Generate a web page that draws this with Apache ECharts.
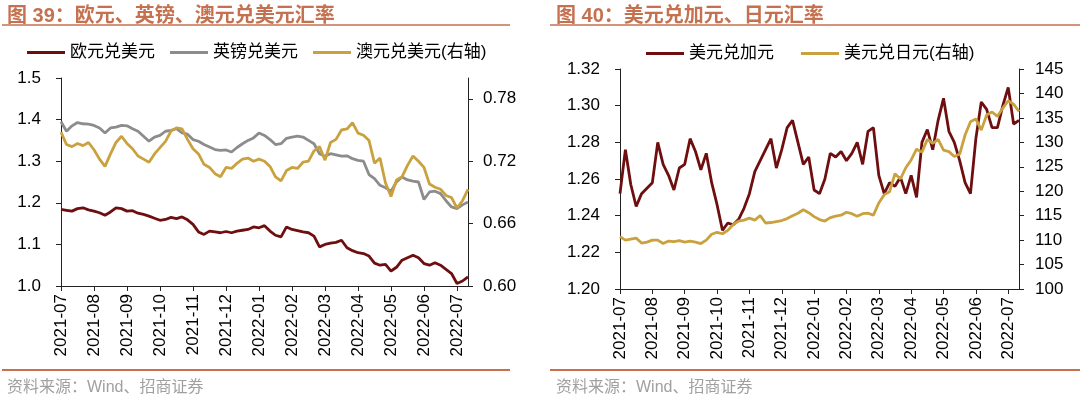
<!DOCTYPE html>
<html>
<head>
<meta charset="utf-8">
<script src="https://cdn.jsdelivr.net/npm/echarts@6/dist/echarts.min.js"></script>
<style>
  html, body { margin: 0; padding: 0; background: #fff; }
  #main { width: 1080px; height: 396px; }
</style>
</head>
<body>
<div id="main"></div>
<script>
// month ticks on the x axis, plus the sampling days inside each month
var months = ['2021-07','2021-08','2021-09','2021-10','2021-11','2021-12',
  '2022-01','2022-02','2022-03','2022-04','2022-05','2022-06','2022-07'];
var days = ['01','06','11','16','21','26'];

// 图39 (left axis: EUR, GBP; right axis: AUD)
var eurUsd = [1.184,1.182,1.180,1.186,1.188,1.183, 1.180,1.176,1.170,1.178,1.188,1.186,
  1.180,1.181,1.175,1.172,1.168,1.163, 1.158,1.160,1.165,1.162,1.166,1.159,
  1.148,1.130,1.124,1.132,1.130,1.128, 1.131,1.128,1.132,1.134,1.136,1.142,
  1.140,1.145,1.132,1.122,1.118,1.142, 1.136,1.133,1.130,1.128,1.120,1.094,
  1.100,1.103,1.105,1.110,1.092,1.085, 1.080,1.078,1.072,1.055,1.050,1.052,
  1.036,1.045,1.062,1.068,1.074,1.068, 1.054,1.050,1.056,1.050,1.040,1.030,
  1.006,1.012,1.022];
var gbpUsd = [1.395,1.372,1.385,1.393,1.390,1.389, 1.386,1.380,1.368,1.380,1.382,1.386,
  1.385,1.378,1.372,1.360,1.348,1.358, 1.362,1.372,1.374,1.378,1.368,1.365,
  1.352,1.348,1.340,1.334,1.328,1.326, 1.327,1.322,1.333,1.342,1.350,1.356,
  1.368,1.362,1.352,1.340,1.342,1.355, 1.358,1.360,1.358,1.350,1.342,1.318,
  1.312,1.318,1.315,1.312,1.313,1.306, 1.302,1.300,1.268,1.258,1.242,1.236,
  1.228,1.250,1.262,1.255,1.252,1.250, 1.208,1.226,1.228,1.222,1.205,1.190,
  1.186,1.195,1.202];
var audUsd = [0.748,0.736,0.734,0.737,0.735,0.738, 0.731,0.722,0.715,0.727,0.738,0.744,
  0.737,0.732,0.725,0.722,0.719,0.727, 0.733,0.739,0.749,0.752,0.751,0.741,
  0.732,0.727,0.717,0.714,0.708,0.705, 0.714,0.713,0.718,0.722,0.723,0.720,
  0.722,0.720,0.715,0.705,0.701,0.711, 0.714,0.713,0.719,0.720,0.730,0.734,
  0.721,0.738,0.741,0.750,0.751,0.757, 0.747,0.745,0.740,0.718,0.723,0.699,
  0.686,0.702,0.705,0.716,0.725,0.720, 0.714,0.698,0.695,0.693,0.687,0.685,
  0.675,0.682,0.693];

// 图40 (left axis: CAD; right axis: JPY)
var usdCad = [1.252,1.276,1.257,1.245,1.252,1.255, 1.258,1.280,1.268,1.262,1.254,1.266,
  1.268,1.282,1.275,1.265,1.274,1.258, 1.246,1.232,1.236,1.235,1.238,1.244,
  1.252,1.264,1.270,1.276,1.282,1.266, 1.276,1.288,1.292,1.280,1.268,1.272,
  1.254,1.252,1.260,1.274,1.272,1.275, 1.270,1.274,1.280,1.268,1.286,1.288,
  1.262,1.252,1.258,1.256,1.261,1.252, 1.262,1.250,1.280,1.287,1.276,1.292,
  1.304,1.286,1.280,1.270,1.258,1.252, 1.282,1.302,1.298,1.288,1.288,1.300,
  1.310,1.290,1.292];
var usdJpy = [110.7,110.0,110.2,110.4,109.4,109.6, 110.0,110.0,109.3,109.8,109.7,109.9,
  109.6,109.8,109.6,109.3,110.0,111.2, 111.6,111.3,112.0,113.2,113.9,114.1,
  114.5,114.1,115.0,113.5,113.6,113.8, 114.0,114.4,115.0,115.5,116.2,115.6,
  114.8,114.2,113.9,114.6,114.9,115.1, 115.7,115.4,114.9,115.4,115.5,115.1,
  117.6,119.3,119.9,123.6,122.5,124.8, 126.4,128.6,128.0,130.6,129.8,130.6,
  128.4,128.1,127.1,127.6,131.5,134.2, 134.8,132.5,135.6,136.2,135.3,137.0,
  138.5,137.8,136.3];

var dates = [];
months.forEach(function (m) {
  days.forEach(function (d) {
    if (dates.length < eurUsd.length) dates.push(m + '-' + d);
  });
});

var FONT = '"Liberation Sans", "Noto Sans CJK SC", sans-serif';
var RED = '#6E0E0F', GREY = '#8C8C8C', GOLD = '#C9A23F', TITLE = '#C5714F';

function isMonthStart(idx) { return idx % days.length === 0; }

function xAxisFor(grid) {
  return {
    type: 'category', gridIndex: grid, data: dates, boundaryGap: false,
    axisLine: { lineStyle: { color: '#222', width: 1 } },
    axisTick: { interval: isMonthStart, length: 5, lineStyle: { color: '#222' } },
    axisLabel: {
      interval: isMonthStart, rotate: 90, margin: 8, color: '#000',
      fontSize: 17, fontFamily: FONT,
      formatter: function (v) { return v.slice(0, 7); }
    }
  };
}

// hideMax: the AUD axis runs to 0.80 but only labels up to 0.78
function yAxisFor(grid, pos, min, max, step, digits, margin, hideMax) {
  return {
    type: 'value', gridIndex: grid, position: pos,
    min: min, max: max, interval: step,
    splitLine: { show: false },
    axisLine: { show: true, lineStyle: { color: '#222', width: 1 } },
    axisTick: { show: true, length: 5, lineStyle: { color: '#222' } },
    axisLabel: {
      color: '#000', fontSize: 17, fontFamily: FONT, margin: margin,
      showMaxLabel: !hideMax,
      formatter: function (v) { return v.toFixed(digits); }
    }
  };
}

function lineSeries(name, x, y, data, color) {
  return {
    name: name, type: 'line', xAxisIndex: x, yAxisIndex: y, data: data,
    symbol: 'none', smooth: false, animation: false,
    lineStyle: { color: color, width: 2.8 }, itemStyle: { color: color }
  };
}

function titleText(num, rest) {
  return {
    text: '{b|图 ' + num + '：}{n|' + rest + '}',
    textStyle: { rich: {
      b: { fontSize: 20, fontWeight: 'bold', color: TITLE, fontFamily: FONT },
      n: { fontSize: 20, color: TITLE, fontFamily: FONT }
    } }
  };
}

var t39 = titleText('39', '欧元、英镑、澳元兑美元汇率');
t39.left = 2; t39.top = 1;
var t40 = titleText('40', '美元兑加元、日元汇率');
t40.left = 551; t40.top = 1;

var chart = echarts.init(document.getElementById('main'));
chart.setOption({
  animation: false,
  title: [
    t39, t40,
    { left: 2, top: 375, text: '资料来源：Wind、招商证券',
      textStyle: { fontSize: 16, fontWeight: 'normal', color: '#A0A0A0', fontFamily: FONT } },
    { left: 551, top: 375, text: '资料来源：Wind、招商证券',
      textStyle: { fontSize: 16, fontWeight: 'normal', color: '#A0A0A0', fontFamily: FONT } }
  ],
  // rules under the titles and above the sources
  graphic: [
    { type: 'line', shape: { x1: 2, y1: 25, x2: 510, y2: 25 }, style: { stroke: TITLE, lineWidth: 1.5 } },
    { type: 'line', shape: { x1: 550, y1: 25, x2: 1080, y2: 25 }, style: { stroke: TITLE, lineWidth: 1.5 } },
    { type: 'line', shape: { x1: 2, y1: 370, x2: 510, y2: 370 }, style: { stroke: TITLE, lineWidth: 2 } },
    { type: 'line', shape: { x1: 550, y1: 370, x2: 1080, y2: 370 }, style: { stroke: TITLE, lineWidth: 2 } }
  ],
  legend: [
    {
      left: 27, top: 44, padding: 0, itemGap: 15, itemWidth: 38, itemHeight: 3, icon: 'rect',
      textStyle: { fontSize: 17, color: '#000', fontFamily: FONT },
      data: ['欧元兑美元', '英镑兑美元', '澳元兑美元(右轴)']
    },
    {
      left: 646, top: 45, padding: 0, itemGap: 27, itemWidth: 38, itemHeight: 3, icon: 'rect',
      textStyle: { fontSize: 17, color: '#000', fontFamily: FONT },
      data: ['美元兑加元', '美元兑日元(右轴)']
    }
  ],
  grid: [
    { left: 61, top: 78, width: 407, height: 208 },
    { left: 620, top: 69, width: 399, height: 220 }
  ],
  xAxis: [xAxisFor(0), xAxisFor(1)],
  yAxis: [
    yAxisFor(0, 'left', 1.0, 1.5, 0.1, 1, 20, false),
    yAxisFor(0, 'right', 0.6, 0.8, 0.06, 2, 15, true),
    yAxisFor(1, 'left', 1.2, 1.32, 0.02, 2, 20, false),
    yAxisFor(1, 'right', 100, 145, 5, 0, 16, false)
  ],
  series: [
    lineSeries('欧元兑美元', 0, 0, eurUsd, RED),
    lineSeries('英镑兑美元', 0, 0, gbpUsd, GREY),
    lineSeries('澳元兑美元(右轴)', 0, 1, audUsd, GOLD),
    lineSeries('美元兑加元', 1, 2, usdCad, RED),
    lineSeries('美元兑日元(右轴)', 1, 3, usdJpy, GOLD)
  ]
});
</script>
</body>
</html>
